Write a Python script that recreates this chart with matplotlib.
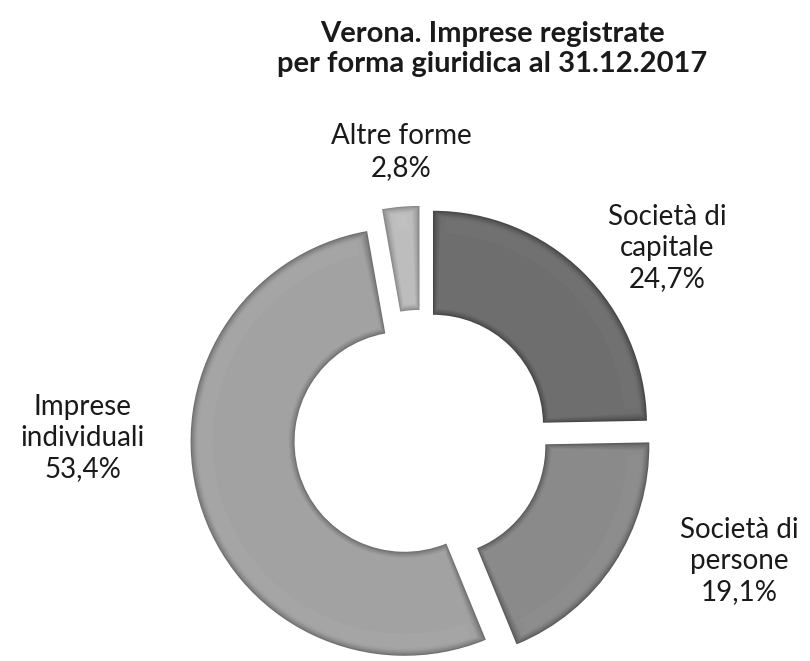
import matplotlib
matplotlib.use("Agg")
import matplotlib.pyplot as plt
from matplotlib.patches import Wedge
from matplotlib.colors import to_rgb
import numpy as np

# forme giuridiche, in senso orario partendo dall'alto
categorie = ["Società di\ncapitale", "Società di\npersone", "Imprese\nindividuali", "Altre forme"]
percentuali = [24.7, 19.1, 53.4, 2.8]
colori = ["#6e6e6e", "#8a8a8a", "#a2a2a2", "#bdbdbd"]
bordi = ["#454545", "#5a5a5a", "#6e6e6e", "#888888"]

titolo = "Verona. Imprese registrate\nper forma giuridica al 31.12.2017"

plt.rcParams["font.family"] = ["Lato", "DejaVu Sans"]

fig = plt.figure(figsize=(8.1, 6.61), dpi=100)
ax = fig.add_axes([0, 0, 1, 1])

centro = (421, 661 - 437)
raggio = 214
spessore = 104
esplodi = [0.08 * raggio] * len(percentuali)

wedges, _ = ax.pie(percentuali, colors=bordi, startangle=90, counterclock=False,
                   radius=raggio, center=centro, explode=esplodi,
                   wedgeprops=dict(width=spessore, linewidth=0), normalize=True,
                   frame=True)
ax.set_xlim(0, 810)
ax.set_ylim(0, 661)
ax.set_aspect("equal")
ax.axis("off")

# effetto rilievo: strati interni sempre più chiari verso il colore pieno
for w, c_base, c_bordo in zip(wedges, colori, bordi):
    b = np.array(to_rgb(c_bordo))
    f = np.array(to_rgb(c_base))
    r_medio = w.r - w.width / 2
    passi = [1, 2, 3, 4, 5, 6]
    for i, k in enumerate(passi):
        t = (i + 1) / len(passi)
        dth = np.degrees(k / r_medio)
        col = b + (f - b) * t ** 0.7
        ax.add_patch(Wedge(w.center, w.r - k, w.theta1 + dth, w.theta2 - dth,
                           width=w.width - 2 * k, facecolor=col, linewidth=0))
    # leggero riflesso verso il bordo esterno
    lum = np.clip(f + 0.04, 0, 1)
    ax.add_patch(Wedge(w.center, w.r - 8, w.theta1 + np.degrees(10 / r_medio),
                       w.theta2 - np.degrees(10 / r_medio), width=14,
                       facecolor=lum, linewidth=0, alpha=0.35))

# etichette con nome e percentuale
pos_etichette = [(667, 248), (739, 561), (83, 438), (401, 152)]
for nome, p, (x, y) in zip(categorie, percentuali, pos_etichette):
    testo = f"{nome}\n{p:.1f}%".replace(".", ",")
    ax.text(x, 661 - y, testo, ha="center", va="center", fontsize=20,
            color="#1a1a1a", linespacing=1.25)

ax.text(492, 661 - 49, titolo, ha="center", va="center", fontsize=21,
        fontweight="bold", color="#1a1a1a", linespacing=1.15)

fig.savefig("out.png", dpi=100, facecolor="white")
